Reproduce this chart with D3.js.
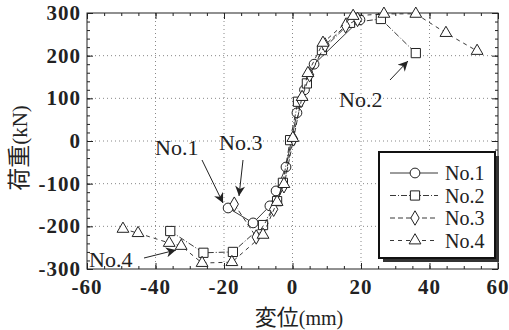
<!DOCTYPE html>
<html>
<head>
<meta charset="utf-8">
<script src="https://cdn.jsdelivr.net/npm/d3@7"></script>
<style>
  body { margin: 0; background: #fff; }
  svg { display: block; }
</style>
</head>
<body>
<svg id="chart" width="509" height="330"></svg>
<script>
// displacement (mm) / load (kN)
const no1X = [-18.8, -11.5, -6.6, -4.8, -1.9, 1.3, 3.5, 6.3, 19.7];
const no1Y = [-157, -192, -152, -117, -61, 66, 120, 180, 284];
const no2X = [-35.7, -26, -17.4, -8.6, -4.5, -2.8, -0.7, 1.6, 4.2, 8.6, 16.8, 25.8, 36.0];
const no2Y = [-211, -262, -260, -197, -141, -98, 2, 92, 135, 213, 277, 286, 206];
const no3X = [-17, -10.6, -5.5, -2.5, 0.3, 2.5, 5, 9.5, 15.5, 19];
const no3Y = [-148, -225, -160, -105, 5, 95, 155, 225, 270, 285];
const no4X = [-49.5, -45.1, -36, -32.5, -26.4, -17.7, -8.6, -4.5, -2.5, 0.1, 2.8, 4.5, 8.9, 17.7, 26.7, 36, 44.8, 53.9];
const no4Y = [-206, -216, -239, -246, -286, -284, -220, -143, -101, 7, 103, 159, 230, 293, 298, 298, 253, 211];

const xTicks = [-60, -40, -20, 0, 20, 40, 60];
const yTicks = [-300, -200, -100, 0, 100, 200, 300];
const seriesNames = ['No.1', 'No.2', 'No.3', 'No.4'];

const margin = { left: 87, top: 13 };
const width = 411, height = 256;
const ink = '#222';

const svg = d3.select('#chart');
const g = svg.append('g').attr('transform', `translate(${margin.left},${margin.top})`);

const x = d3.scaleLinear().domain([-60, 60]).range([0, width]);
const y = d3.scaleLinear().domain([-300, 300]).range([height, 0]);

// dotted grid
g.append('g').selectAll('line').data(xTicks.slice(1, -1)).enter().append('line')
  .attr('x1', d => x(d)).attr('x2', d => x(d)).attr('y1', 0).attr('y2', height)
  .attr('stroke', '#888').attr('stroke-width', 1).attr('stroke-dasharray', '1,3');
g.append('g').selectAll('line').data(yTicks.slice(1, -1)).enter().append('line')
  .attr('y1', d => y(d)).attr('y2', d => y(d)).attr('x1', 0).attr('x2', width)
  .attr('stroke', '#888').attr('stroke-width', 1).attr('stroke-dasharray', '1,3');

// inner ticks on all four sides
function ticksOn(axisFn, scale, values, len, transform) {
  const a = axisFn(scale).tickValues(values).tickSize(len).tickFormat('');
  const sel = g.append('g').attr('transform', transform).call(a);
  sel.select('.domain').remove();
  sel.selectAll('line').attr('stroke', ink).attr('stroke-width', 1);
}
const xMinor = d3.range(-60, 60.1, 5);
const yMinor = d3.range(-300, 300.1, 20);
ticksOn(d3.axisTop, x, xMinor, 3, `translate(0,${height})`);
ticksOn(d3.axisTop, x, xTicks, 6, `translate(0,${height})`);
ticksOn(d3.axisBottom, x, xMinor, 3, 'translate(0,0)');
ticksOn(d3.axisBottom, x, xTicks, 6, 'translate(0,0)');
ticksOn(d3.axisRight, y, yMinor, 3, 'translate(0,0)');
ticksOn(d3.axisRight, y, yTicks, 6, 'translate(0,0)');
ticksOn(d3.axisLeft, y, yMinor, 3, `translate(${width},0)`);
ticksOn(d3.axisLeft, y, yTicks, 6, `translate(${width},0)`);

g.append('rect').attr('width', width).attr('height', height)
  .attr('fill', 'none').attr('stroke', ink).attr('stroke-width', 1);

// tick labels
const labelFont = '"Liberation Serif", "DejaVu Serif", serif';
g.append('g').selectAll('text').data(xTicks).enter().append('text')
  .attr('x', d => x(d)).attr('y', height + 25)
  .attr('text-anchor', 'middle')
  .style('font-family', labelFont).style('font-size', '21px').style('font-weight', 'bold')
  .style('letter-spacing', '1px').attr('fill', ink)
  .text(d => d);
g.append('g').selectAll('text').data(yTicks).enter().append('text')
  .attr('x', -6).attr('y', d => y(d) + 7)
  .attr('text-anchor', 'end')
  .style('font-family', labelFont).style('font-size', '21px').style('font-weight', 'bold')
  .style('letter-spacing', '1px').attr('fill', ink)
  .text(d => d);

// axis titles
const xt = svg.append('text').attr('x', 299).attr('y', 325).attr('text-anchor', 'middle').attr('fill', ink);
xt.append('tspan').style('font-family', '"Noto Sans CJK JP"').style('font-size', '22px').text('変位');
xt.append('tspan').style('font-family', labelFont).style('font-size', '20px').text('(mm)');
const yt = svg.append('text').attr('transform', 'translate(27,148) rotate(-90)')
  .attr('text-anchor', 'middle').attr('fill', ink);
yt.append('tspan').style('font-family', '"Noto Sans CJK JP"').style('font-size', '23px').text('荷重');
yt.append('tspan').style('font-family', labelFont).style('font-size', '21px').text('(kN)');

// series
const series = [
  { name: seriesNames[0], xs: no1X, ys: no1Y, dash: null, shape: d3.symbolCircle, size: 75 },
  { name: seriesNames[1], xs: no2X, ys: no2Y, dash: '6,2,1,2', shape: d3.symbolSquare, size: 85 },
  { name: seriesNames[2], xs: no3X, ys: no3Y, dash: '5,3', shape: d3.symbolDiamond, size: 60 },
  { name: seriesNames[3], xs: no4X, ys: no4Y, dash: '4,4', shape: d3.symbolTriangle, size: 60 }
];

const line = d3.line().x(d => x(d[0])).y(d => y(d[1]));
const sym = d3.symbol();

series.forEach(s => {
  const pts = s.xs.map((v, i) => [v, s.ys[i]]);
  g.append('path').datum(pts).attr('d', line)
    .attr('fill', 'none').attr('stroke', ink).attr('stroke-width', 0.9)
    .attr('stroke-dasharray', s.dash);
  g.append('g').selectAll('path').data(pts).enter().append('path')
    .attr('transform', d => `translate(${x(d[0])},${y(d[1])})`)
    .attr('d', sym.type(s.shape).size(s.size)())
    .attr('fill', '#fff').attr('stroke', ink).attr('stroke-width', 1);
});

// annotations with arrows
svg.append('defs').append('marker')
  .attr('id', 'head').attr('viewBox', '0 0 10 10').attr('refX', 10).attr('refY', 5)
  .attr('markerWidth', 14).attr('markerHeight', 10).attr('markerUnits', 'userSpaceOnUse')
  .attr('orient', 'auto')
  .append('path').attr('d', 'M0,0 L10,5 L0,10 L3,5 Z').attr('fill', ink);

const notes = [
  { text: 'No.1', tx: 155, ty: 155, from: [202, 160], to: [223, 203] },
  { text: 'No.3', tx: 219, ty: 150, from: [243, 160], to: [239, 196] },
  { text: 'No.2', tx: 339, ty: 107, from: [390, 80], to: [408, 61] },
  { text: 'No.4', tx: 89, ty: 267, from: [144, 258], to: [176, 250] }
];
notes.forEach(n => {
  svg.append('text').attr('x', n.tx).attr('y', n.ty)
    .style('font-family', labelFont).style('font-size', '22px').attr('fill', ink)
    .text(n.text);
  svg.append('line').attr('x1', n.from[0]).attr('y1', n.from[1])
    .attr('x2', n.to[0]).attr('y2', n.to[1])
    .attr('stroke', ink).attr('stroke-width', 1).attr('marker-end', 'url(#head)');
});

// legend
const lg = svg.append('g').attr('transform', 'translate(379,152)');
lg.append('rect').attr('x', 4).attr('y', 4).attr('width', 116).attr('height', 106).attr('fill', '#333');
lg.append('rect').attr('width', 116).attr('height', 106).attr('fill', '#fff')
  .attr('stroke', '#111').attr('stroke-width', 2);
series.forEach((s, i) => {
  const ly = 21 + i * 22.5;
  lg.append('line').attr('x1', 11).attr('x2', 59).attr('y1', ly).attr('y2', ly)
    .attr('stroke', ink).attr('stroke-width', 0.9).attr('stroke-dasharray', s.dash);
  lg.append('path').attr('transform', `translate(36,${ly})`)
    .attr('d', sym.type(s.shape).size(s.size)())
    .attr('fill', '#fff').attr('stroke', ink);
  lg.append('text').attr('x', 66).attr('y', ly + 7)
    .style('font-family', labelFont).style('font-size', '20px').attr('fill', ink)
    .text(s.name);
});
</script>
</body>
</html>
